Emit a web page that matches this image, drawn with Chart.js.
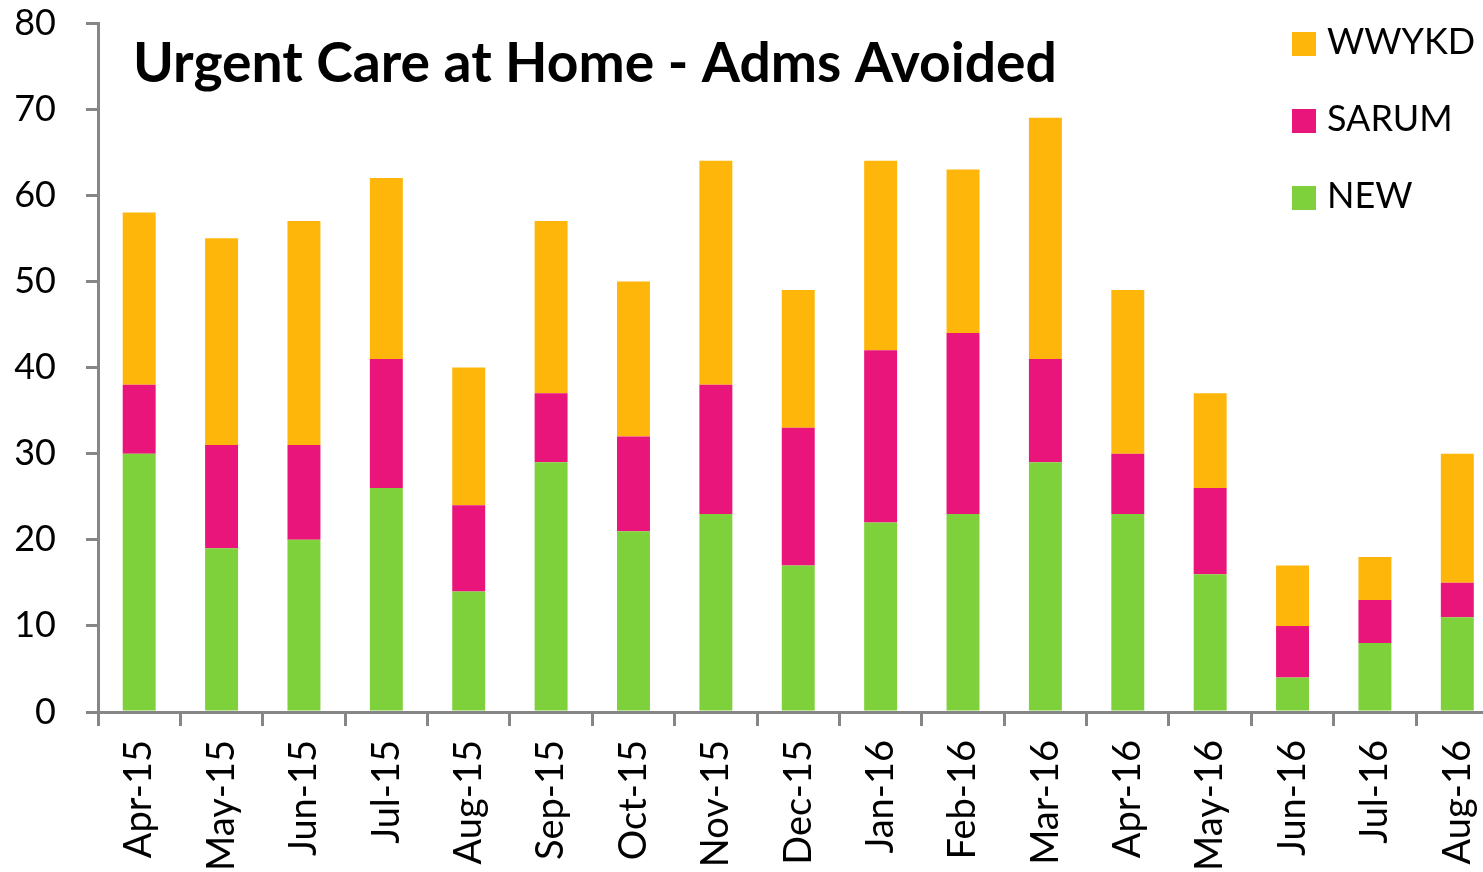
<!DOCTYPE html>
<html><head><meta charset="utf-8">
<script src="https://cdn.jsdelivr.net/npm/chart.js@4.4.0/dist/chart.umd.min.js"></script>
<style>html,body{margin:0;padding:0;overflow:hidden;background:#fff}#wrap{width:1500px;height:872px}</style>
</head><body><div id="wrap"><canvas id="c" width="1500" height="872"></canvas></div>
<script>
const categories = ['Apr-15','May-15','Jun-15','Jul-15','Aug-15','Sep-15','Oct-15','Nov-15','Dec-15','Jan-16','Feb-16','Mar-16','Apr-16','May-16','Jun-16','Jul-16','Aug-16'];
const newValues   = [30,19,20,26,14,29,21,23,17,22,23,29,23,16,4,8,11];
const sarumValues = [8,12,11,15,10,8,11,15,16,20,21,12,7,10,6,5,4];
const wwykdValues = [20,24,26,21,16,20,18,26,16,22,19,28,19,11,7,5,15];
const yTickValues = [0,10,20,30,40,50,60,70,80];
const seriesNames = ['NEW','SARUM','WWYKD'];
const seriesColors = ['#7FD13B','#EA157A','#FFB60B'];
const titleText = 'Urgent Care at Home - Adms Avoided';

const FONT = 'Lato';
const AXIS = '#868686';

const overlayPlugin = {
  id: 'overlay',
  afterDraw(chart) {
    const ctx = chart.ctx;
    ctx.save();
    let size = 50;
    ctx.font = `bold ${size}px ${FONT}`;
    const w = ctx.measureText(titleText).width;
    size = size * 924 / w;
    ctx.font = `bold ${size}px ${FONT}`;
    ctx.fillStyle = '#000';
    ctx.textBaseline = 'alphabetic';
    ctx.textAlign = 'left';
    ctx.fillText(titleText, 133, 82);
    ctx.font = `36px ${FONT}`;
    const order = [2,1,0];
    order.forEach((idx, i) => {
      const y = 32 + i * 77;
      ctx.fillStyle = chart.data.datasets[idx].backgroundColor;
      ctx.fillRect(1292, y, 24, 24);
      ctx.fillStyle = '#000';
      ctx.fillText(chart.data.datasets[idx].label, 1327, y + 22);
    });
    ctx.restore();
  }
};

new Chart(document.getElementById('c'), {
  type: 'bar',
  data: {
    labels: categories,
    datasets: [
      { label: seriesNames[0], data: newValues, backgroundColor: seriesColors[0] },
      { label: seriesNames[1], data: sarumValues, backgroundColor: seriesColors[1] },
      { label: seriesNames[2], data: wwykdValues, backgroundColor: seriesColors[2] }
    ]
  },
  options: {
    responsive: false,
    animation: false,
    devicePixelRatio: 1,
    layout: { padding: { top: 23, right: 1.5, left: 0, bottom: 0 } },
    datasets: { bar: { barPercentage: 0.4, categoryPercentage: 1.0, borderWidth: 0 } },
    plugins: { legend: { display: false }, tooltip: { enabled: false }, title: { display: false } },
    scales: {
      x: {
        stacked: true,
        offset: true,
        afterFit(s) { s.height = 160; s.paddingLeft = 0; s.paddingRight = 0; },
        ticks: { autoSkip: false, maxRotation: 90, minRotation: 90, padding: 14, color: '#000', font: { family: FONT, size: 38 } },
        grid: { drawOnChartArea: false, offset: true, tickLength: 14, color: AXIS, lineWidth: 3 },
        border: { color: AXIS, width: 3 }
      },
      y: {
        stacked: true,
        min: 0, max: 80,
        afterFit(s) { s.width = 98; s.paddingTop = 0; s.paddingBottom = 0; },
        afterBuildTicks(s) { s.ticks = yTickValues.map(v => ({ value: v })); },
        ticks: { padding: 30, color: '#000', font: { family: FONT, size: 36, lineHeight: 1 } },
        grid: { drawOnChartArea: false, tickLength: 12, color: AXIS, lineWidth: 3 },
        border: { color: AXIS, width: 3 }
      }
    }
  },
  plugins: [overlayPlugin]
});
</script>
</body></html>
